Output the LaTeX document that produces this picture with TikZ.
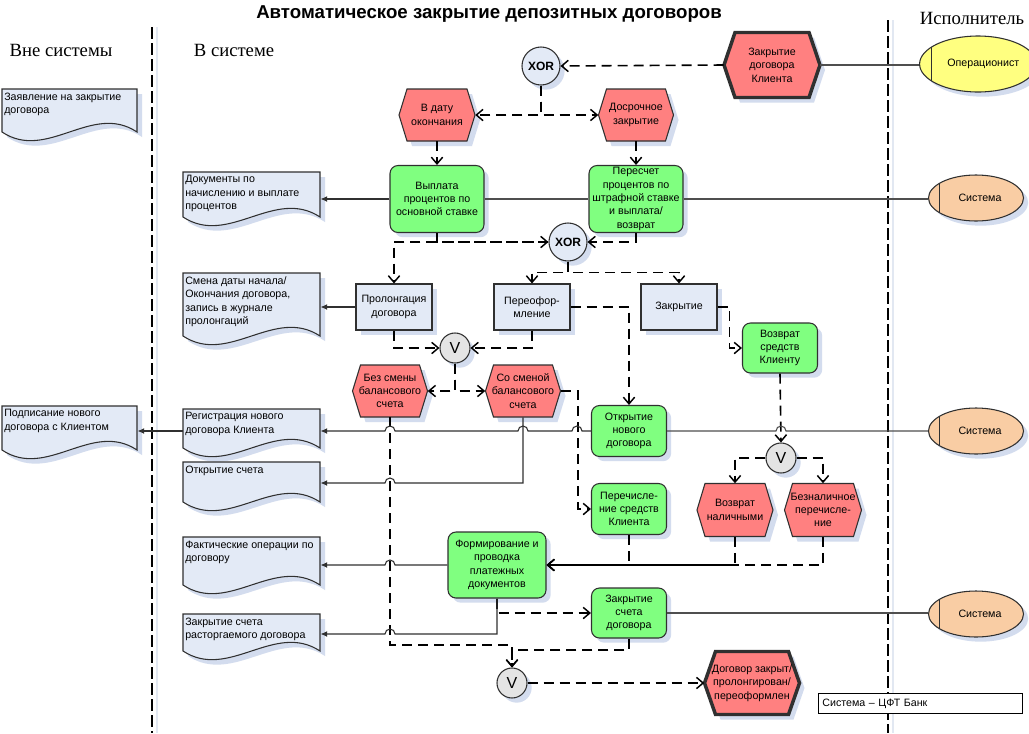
\documentclass[tikz,border=0pt]{standalone}
\usepackage{fontspec}
\setmainfont{Liberation Sans}
\newfontfamily\hdrfont{Liberation Serif}
\usetikzlibrary{arrows.meta,shadows,calc,shapes.geometric}
\definecolor{evred}{HTML}{FF8080}
\definecolor{fngreen}{HTML}{80FF80}
\definecolor{boxblue}{HTML}{E3EAF6}
\definecolor{shad}{HTML}{D3DCEE}
\definecolor{laneshd}{HTML}{E2E8F2}
\definecolor{vgray}{HTML}{E4E4E4}
\definecolor{opyellow}{HTML}{FFFF80}
\definecolor{syspeach}{HTML}{F9CDA4}
\definecolor{edge}{HTML}{303030}
\def\u{0.75pt}
\tikzset{
 txt/.style={font=\fontsize{8}{10}\selectfont, align=center},
 shd/.style={drop shadow={shadow xshift=3.5pt, shadow yshift=-3.5pt, fill=shad, opacity=1}},
 func/.style={txt, draw=edge, line width=0.8pt, fill=fngreen, rounded corners=6pt, shd, inner sep=0pt},
 proc/.style={txt, draw=edge, line width=0.8pt, fill=boxblue, shd, inner sep=0pt, minimum width=76*\u, minimum height=46*\u},
 xorc/.style={circle, draw=edge, line width=0.8pt, fill=boxblue, shd, minimum size=38*\u, inner sep=0pt, font=\bfseries\fontsize{9}{10}\selectfont},
 orc/.style={circle, draw=edge, line width=0.8pt, fill=vgray, shd, minimum size=30*\u, inner sep=0pt, font=\fontsize{12}{12}\selectfont},
 orgunit/.style={ellipse, draw=edge, line width=0.8pt, shd, minimum width=95*\u, minimum height=46*\u, inner sep=0pt, txt,
   path picture={\draw[edge, line width=0.8pt] ([xshift=#1]path picture bounding box.north west) -- ([xshift=#1]path picture bounding box.south west);}},
 flow/.style={draw=black, line width=1.2pt, dash pattern=on 7.5pt off 4.5pt, -{Straight Barb[length=5pt,width=8.5pt,line width=1.1pt]}},
 outp/.style={draw=edge, line width=0.8pt, -{Latex[length=5pt,width=4.5pt]}},
 orgl/.style={draw=edge!85, line width=0.8pt},
 lane/.style={draw=black, line width=0.9pt, dash pattern=on 9pt off 3pt},
 laneshade/.style={draw=laneshd, line width=1.6pt},
 hdr/.style={font=\hdrfont\fontsize{14}{16}\selectfont},
}
% event hexagon: [style] name, x, y, w, h, inset, text
\newcommand\evt[8][]{%
 \fill[shad] ({#3-#5/2+5},{#4+5}) -- ({#3-#5/2+#7+5},{#4-#6/2+5}) -- ({#3+#5/2-#7+5},{#4-#6/2+5}) -- ({#3+#5/2+5},{#4+5}) -- ({#3+#5/2-#7+5},{#4+#6/2+5}) -- ({#3-#5/2+#7+5},{#4+#6/2+5}) -- cycle;
 \draw[draw=edge, line width=0.8pt, fill=evred, #1] ({#3-#5/2},#4) -- ({#3-#5/2+#7},{#4-#6/2}) -- ({#3+#5/2-#7},{#4-#6/2}) -- ({#3+#5/2},#4) -- ({#3+#5/2-#7},{#4+#6/2}) -- ({#3-#5/2+#7},{#4+#6/2}) -- cycle;
 \node[txt, inner sep=0pt, minimum width={#5*\u}, minimum height={#6*\u}] (#2) at (#3,#4) {#8};
}
% document: name, x1, y1, x2, wave mid y, text
\newcommand\docu[6]{%
 \fill[shad] ({#2+5},{#3+5}) -- ({#4+5},{#3+5}) -- ({#4+5},{#5+5}) .. controls ({#4+5-(#4-#2)/3},{#5+5-30}) and ({#2+5+(#4-#2)/3},{#5+5+30}) .. ({#2+5},{#5+5}) -- cycle;
 \draw[draw=edge, line width=0.8pt, fill=boxblue] (#2,#3) -- (#4,#3) -- (#4,#5) .. controls ({#4-(#4-#2)/3},{#5-30}) and ({#2+(#4-#2)/3},{#5+30}) .. (#2,#5) -- cycle;
 \node[inner sep=0pt, minimum width={(#4-#2)*\u}, minimum height={(#5-#3)*\u}, anchor=north west] (#1) at (#2,#3) {};
 \node[font=\fontsize{8}{10}\selectfont, align=left, anchor=north west, inner xsep=1.5pt, inner ysep=2.5pt] at (#2,#3) {#6};
}
\begin{document}
\begin{tikzpicture}[x=0.75pt,y=-0.75pt]
\useasboundingbox (0,0) rectangle (1029,733);
\fill[white] (0,0) rectangle (1029,733);
% lanes
\draw[laneshade] (157,27) -- (157,733);
\draw[lane] (152,27) -- (152,733);
\draw[laneshade] (893,20) -- (893,733);
\draw[lane] (888,20) -- (888,733);
% headings
\node[font=\bfseries\fontsize{14}{16}\selectfont] (title) at (489,14) {Автоматическое закрытие депозитных договоров};
\node[hdr] (hout) at (61,50) {Вне системы};
\node[hdr] (hin) at (234,50) {В системе};
\node[hdr] (hexe) at (972,18) {Исполнитель};
% documents
\docu{D1}{2}{89}{137}{132}{Заявление на закрытие\\договора}
\docu{D2}{183}{172}{320}{217}{Документы по\\начислению и выплате\\процентов}
\docu{D3}{183}{273}{320}{336}{Смена даты начала/\\Окончания договора,\\запись в журнале\\пролонгаций}
\docu{D4}{2}{406}{137}{450}{Подписание нового\\договора с Клиентом}
\docu{D5}{183}{409}{320}{448}{Регистрация нового\\договора Клиента}
\docu{D6}{183}{462}{320}{502}{Открытие счета}
\docu{D7}{183}{537}{320}{585}{Фактические операции по\\договору}
\docu{D8}{183}{614}{320}{651}{Закрытие счета\\расторгаемого договора}
% events
\evt[line width=2.6pt]{Etop}{772}{65}{96}{65}{11}{Закрытие\\договора\\Клиента}
\evt{E1}{437}{115}{76}{52}{8}{В дату\\окончания}
\evt{E2}{636}{115}{75}{52}{8}{Досрочное\\закрытие}
\evt{E3}{390}{391}{75}{52}{8}{Без смены\\балансового\\счета}
\evt{E4}{523}{391}{75}{52}{8}{Со сменой\\балансового\\счета}
\evt{E5}{735}{510}{76}{53}{8}{Возврат\\наличными}
\evt{E6}{823}{510}{77}{53}{8}{Безналичное\\перечисле-\\ние}
\evt[line width=2.6pt]{Eend}{752}{683}{95}{63}{11}{Договор закрыт/\\пролонгирован/\\переоформлен}
% functions
\node[func, minimum width=94*\u, minimum height=67*\u] (F1) at (437,199) {Выплата\\процентов по\\основной ставке};
\node[func, minimum width=94*\u, minimum height=67*\u] (F2) at (636,199) {Пересчет\\процентов по\\штрафной ставке\\и выплата/\\возврат};
\node[func, minimum width=75*\u, minimum height=50*\u] (F3) at (780,348) {Возврат\\средств\\Клиенту};
\node[func, minimum width=75*\u, minimum height=51*\u] (F4) at (629,431) {Открытие\\нового\\договора};
\node[func, minimum width=75*\u, minimum height=51*\u] (F5) at (629,509) {Перечисле-\\ние средств\\Клиента};
\node[func, minimum width=98*\u, minimum height=66*\u] (F6) at (497,565) {Формирование и\\проводка\\платежных\\документов};
\node[func, minimum width=75*\u, minimum height=50*\u] (F7) at (629,613) {Закрытие\\счета\\договора};
% processes
\node[proc] (P1) at (394,307) {Пролонгация\\договора};
\node[proc] (P2) at (532,307) {Переофор-\\мление};
\node[proc] (P3) at (679,307) {Закрытие};
% connectors
\node[xorc] (X1) at (541,66) {XOR};
\node[xorc] (X2) at (568,242) {XOR};
\node[orc] (V1) at (455,348) {V};
\node[orc] (V2) at (781,458) {V};
\node[orc] (V3) at (512,683) {V};
% org units
\node[orgunit=9pt, fill=opyellow, minimum width=96*\u, minimum height=56*\u] (O1) at (978,64) {\hspace{8pt}Операционист};
\node[orgunit=8pt, fill=syspeach] (O2) at (976,198) {\hspace{6pt}Система};
\node[orgunit=8pt, fill=syspeach] (O3) at (976,431) {\hspace{6pt}Система};
\node[orgunit=8pt, fill=syspeach] (O4) at (976,614) {\hspace{6pt}Система};
% legend
\node[draw=black, line width=0.6pt, fill=white, minimum height=20*\u, text width=147pt, inner xsep=3pt, align=left, anchor=north west, font=\fontsize{8}{10}\selectfont] (leg) at (818,693) {Система – ЦФТ Банк};

% ---- control flow (dashed)
\draw[flow] (Etop.west) -- (X1.east);
\draw[flow] (X1.south) |- (E1.east);
\draw[flow] (X1.south) |- (E2.west);
\draw[flow] (E1.south) -- (F1.north);
\draw[flow] (E2.south) -- (F2.north);
\draw[flow] (F1.south) |- (X2.west);
\draw[flow] (F2.south) |- (X2.east);
\draw[flow] (X2.west) -| (P1.north);
\coordinate (x2b) at ($(X2.south)+(0,11)$);
\draw[flow] (X2.south) -- (x2b) -| (P2.north);
\draw[flow] (X2.south) -- (x2b) -| (P3.north);
\draw[flow] (P1.south) |- (V1.west);
\draw[flow] (P2.south) |- (V1.east);
\draw[flow] (P2.east) -| (F4.north);
\draw[flow] (P3.east) -- ++(12,0) |- (F3.west);
\draw[flow] (V1.south) |- (E3.east);
\draw[flow] (V1.south) |- (E4.west);
\draw[flow] (E4.east) -- ++(17,0) |- (F5.west);
\draw[flow] (F3.south) -- (V2.north);
\draw[flow] (V2.west) -| (E5.north);
\draw[flow] (V2.east) -| (E6.north);
\draw[flow] (F5.south) |- (F6.east);
\draw[flow] (E5.south) |- (F6.east);
\draw[flow] (E6.south) |- (F6.east);
\draw[flow] (F6.south) |- (F7.west);
\coordinate (j3) at (512,645);
\draw[flow] (E3.south) |- (j3) -- (V3.north);
\coordinate (j4) at (512,650);
\draw[flow] (F7.south) |- (j4) -- (V3.north);
\draw[flow] (V3.east) -- (Eend.west);

% ---- outputs (solid)
\draw[outp] (F1.west) -- (D2.east |- F1.west);
\draw[outp] (P1.west) -- (D3.east |- P1.west);
\draw[outp] (F4.west) -- (582,431) arc[start angle=0,end angle=-180,radius=5] -- (528,431) arc[start angle=0,end angle=-180,radius=5] -- (395,431) arc[start angle=0,end angle=-180,radius=5] -- (D5.east |- F4.west);
\draw[outp] (D5.west |- F4.west) -- (D4.east |- F4.west);
\coordinate (c6) at (523,483);
\draw[outp] (E4.south) -- (c6) -- (395,483) arc[start angle=0,end angle=-180,radius=5] -- (D6.east |- c6);
\draw[outp] (F6.west) -- (395,565) arc[start angle=0,end angle=-180,radius=5] -- (D7.east |- F6.west);
\coordinate (c8) at (497,634);
\draw[outp] (F6.south) -- (c8) -- (395,634) arc[start angle=0,end angle=-180,radius=5] -- (D8.east |- c8);

% ---- org assignments
\draw[orgl] (Etop.east) -- (Etop.east -| O1.west);
\draw[orgl] (F1.east) -- (F2.west);
\draw[orgl] (F2.east) -- (F2.east -| O2.west);
\draw[orgl] (F4.east) -- (776,431) arc[start angle=180,end angle=360,radius=5] -- (F4.east -| O3.west);
\draw[orgl] (F7.east) -- (F7.east -| O4.west);
\end{tikzpicture}
\end{document}
